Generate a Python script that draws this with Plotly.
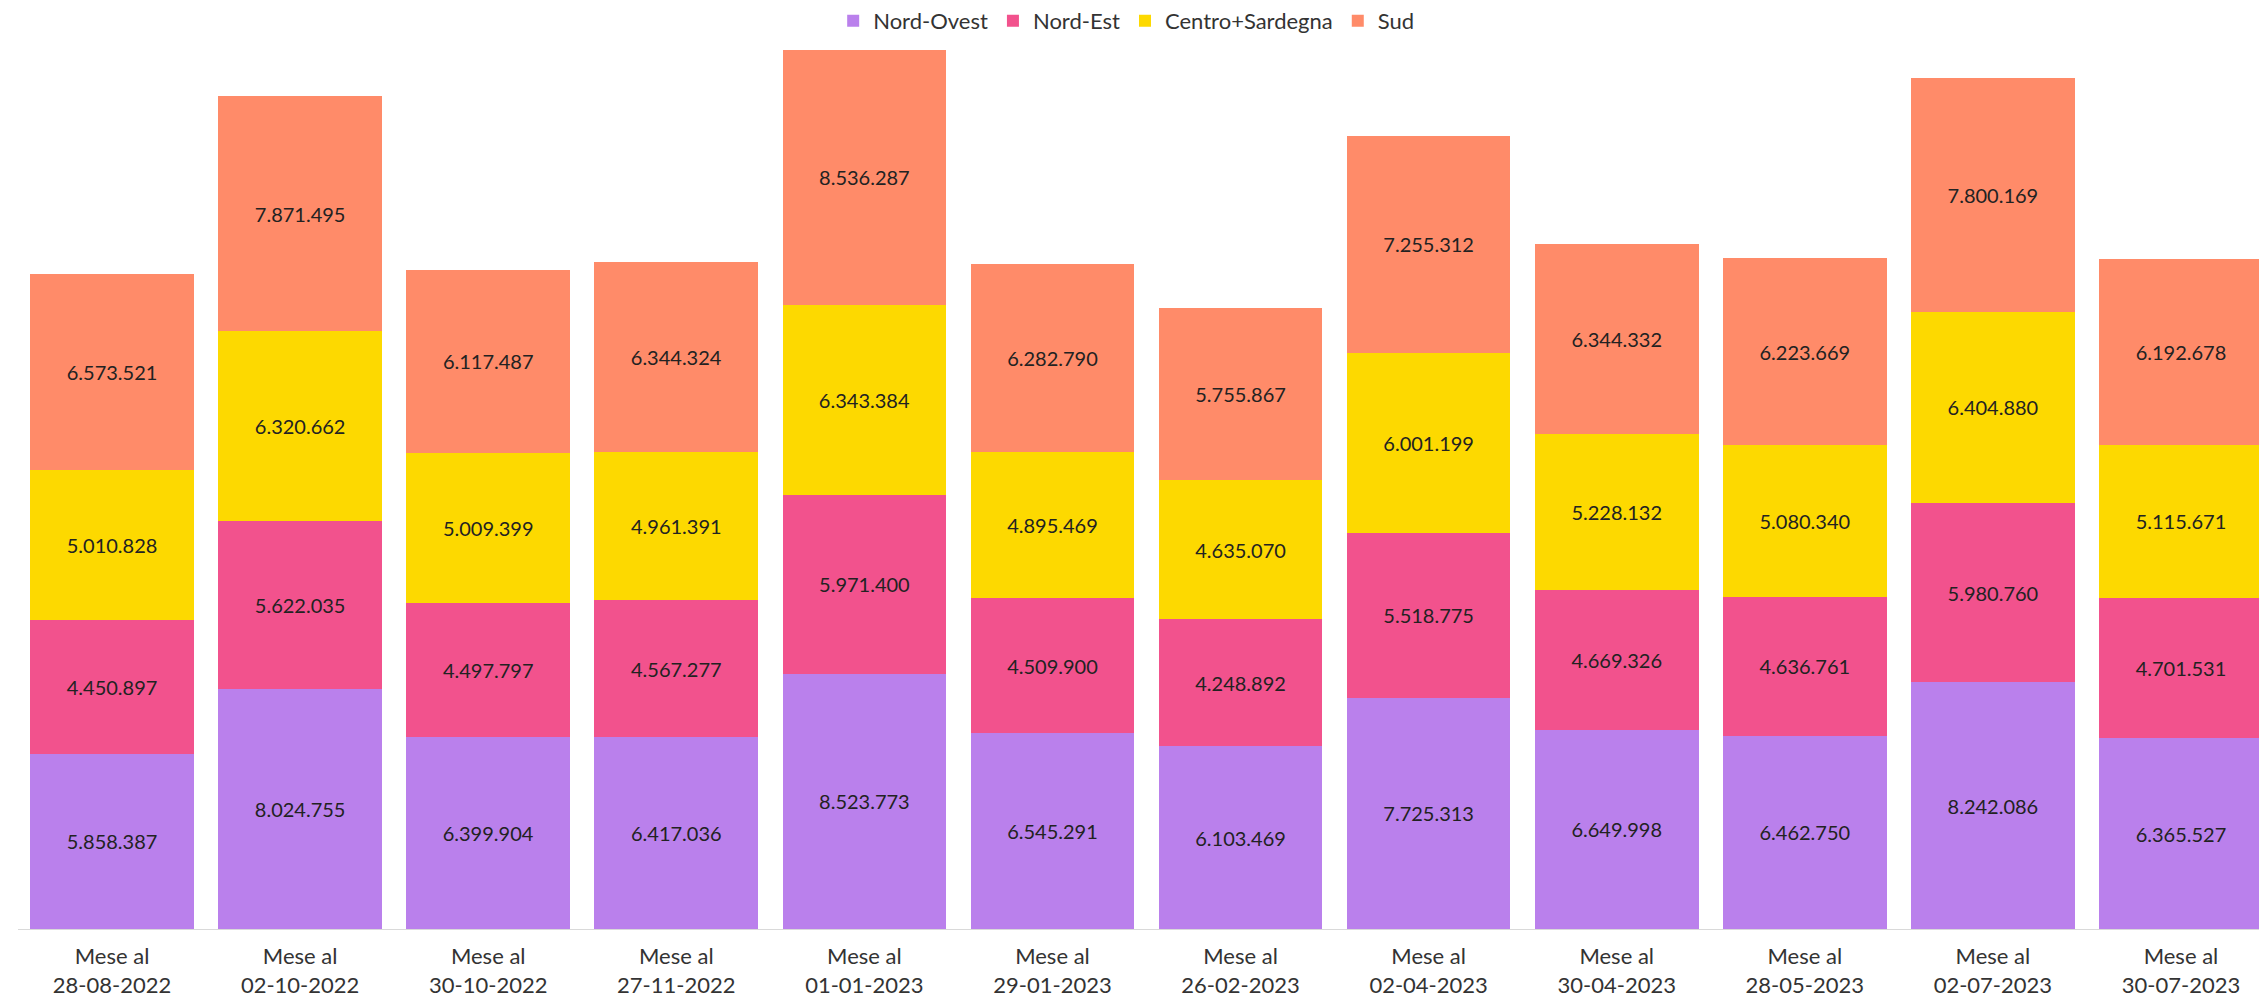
import plotly.graph_objects as go

categories = ["Mese al<br>28-08-2022", "Mese al<br>02-10-2022", "Mese al<br>30-10-2022", "Mese al<br>27-11-2022",
              "Mese al<br>01-01-2023", "Mese al<br>29-01-2023", "Mese al<br>26-02-2023", "Mese al<br>02-04-2023",
              "Mese al<br>30-04-2023", "Mese al<br>28-05-2023", "Mese al<br>02-07-2023", "Mese al<br>30-07-2023"]

nord_ovest = [5858387, 8024755, 6399904, 6417036, 8523773, 6545291, 6103469, 7725313, 6649998, 6462750, 8242086, 6365527]
nord_est = [4450897, 5622035, 4497797, 4567277, 5971400, 4509900, 4248892, 5518775, 4669326, 4636761, 5980760, 4701531]
centro_sardegna = [5010828, 6320662, 5009399, 4961391, 6343384, 4895469, 4635070, 6001199, 5228132, 5080340, 6404880, 5115671]
sud = [6573521, 7871495, 6117487, 6344324, 8536287, 6282790, 5755867, 7255312, 6344332, 6223669, 7800169, 6192678]

series = [
    ("Nord-Ovest", nord_ovest, "#BA80EC"),
    ("Nord-Est", nord_est, "#F2528D"),
    ("Centro+Sardegna", centro_sardegna, "#FDD900"),
    ("Sud", sud, "#FF8B69"),
]

fig = go.Figure()
for name, vals, color in series:
    fig.add_trace(go.Bar(
        x=categories, y=vals, name=name,
        marker=dict(color=color, line=dict(width=0)),
        texttemplate="%{y:,}", textposition="inside", insidetextanchor="middle",
        textfont=dict(color="#222222", size=20, family="Lato"),
        textangle=0,
    ))

fig.update_layout(
    barmode="stack",
    bargap=0.13,
    separators=",.",
    width=2267, height=1001,
    margin=dict(l=10, r=0, t=35, b=80, autoexpand=False),
    paper_bgcolor="white", plot_bgcolor="white",
    font=dict(family="Lato", size=22, color="#333333"),
    uniformtext=dict(minsize=20, mode="show"),
    legend=dict(orientation="h", x=0.491, xanchor="center",
                y=1.025, yanchor="middle",
                font=dict(size=22, color="#333333", family="Lato"), traceorder="normal"),
    xaxis=dict(showline=True, linecolor="#d9d9d9", linewidth=1, ticks="", showgrid=False,
               tickangle=0, automargin=False, ticklabelstandoff=8,
               tickfont=dict(size=22, color="#333333", family="Lato")),
    yaxis=dict(visible=False, range=[0, 29.6e6], showgrid=False),
)

fig.write_html("out.html")
